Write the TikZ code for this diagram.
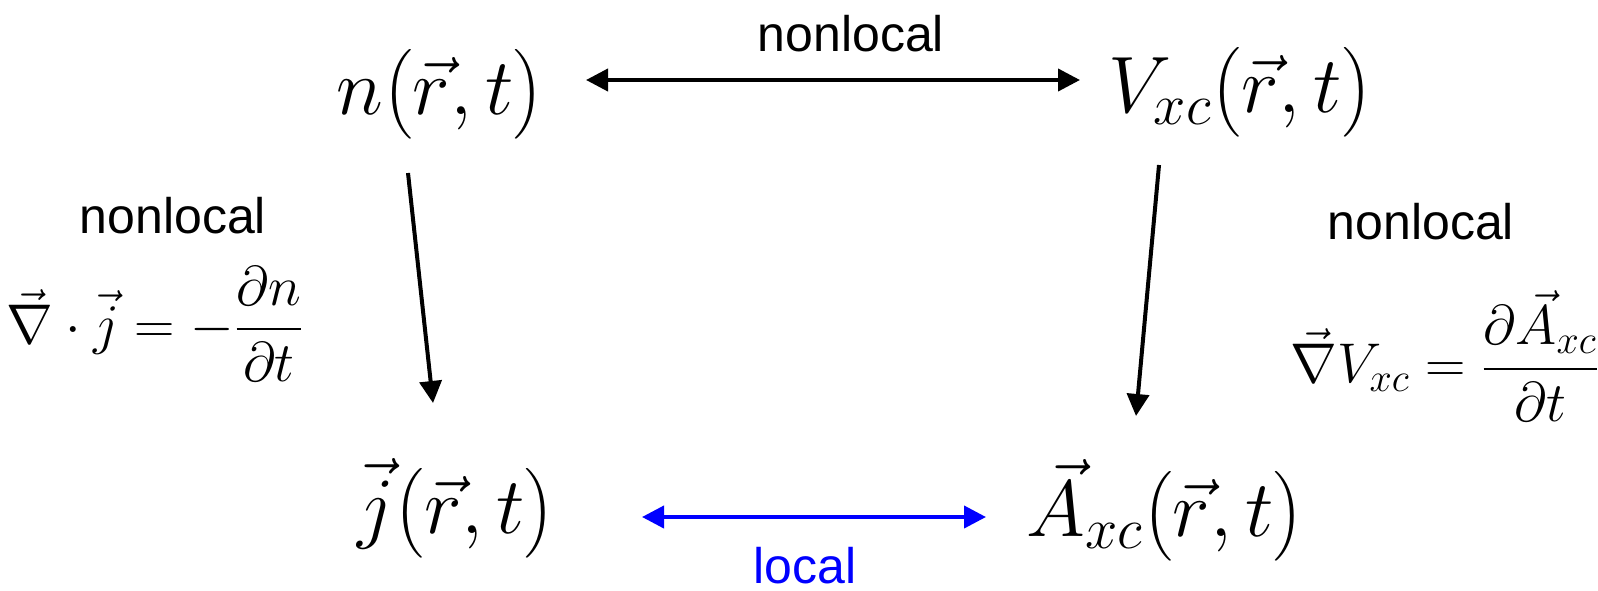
\RequirePackage{fix-cm}
\documentclass[tikz,border=0pt]{standalone}
\usepackage{amsmath}
\usepackage{fontspec}
\newfontfamily\arial{Liberation Sans}
\DeclareMathSizes{40}{40}{29}{21}
\DeclareMathSizes{28}{28}{20}{15}
\usetikzlibrary{arrows.meta}
\tikzset{
  big/.style={font=\fontsize{40}{44}\selectfont, inner sep=0pt},
  eq/.style={font=\fontsize{28}{32}\selectfont, inner sep=0pt},
  lab/.style={font=\arial\fontsize{25}{28}\selectfont, inner sep=0pt},
  conn/.style={line width=2pt, -{Triangle[length=11pt,width=11pt]}},
  biconn/.style={line width=2pt, {Triangle[length=11pt,width=11pt]}-{Triangle[length=11pt,width=11pt]}}
}
\begin{document}
\begin{tikzpicture}[x=0.5pt,y=-0.5pt]
\useasboundingbox (0,0) rectangle (1598,590);
\node[big] (n) at (440,94) {$n\bigl(\vec r,t\bigr)$};
\node[big] (v) at (1240,92) {$V_{xc}\bigl(\vec r,t\bigr)$};
\node[big] (j) at (456,510) {$\vec j\bigl(\vec r,t\bigr)$};
\node[big] (a) at (1165,512) {$\vec A_{xc}\bigl(\vec r,t\bigr)$};
\coordinate (t1) at (586,80);
\coordinate (t2) at (1080,80);
\coordinate (l1) at (408,173);
\coordinate (l2) at (433,403);
\coordinate (r1) at (1159,165);
\coordinate (r2) at (1136,416);
\coordinate (b1) at (642,517);
\coordinate (b2) at (986,517);
\draw[biconn] (t1) -- (t2);
\draw[conn] (l1) -- (l2);
\draw[conn] (r1) -- (r2);
\draw[biconn, blue] (b1) -- (b2);
\node[lab] (ltop) at (851,34) {nonlocal};
\node[lab] (lleft) at (173,216) {nonlocal};
\node[lab] (lright) at (1421,222) {nonlocal};
\node[lab, blue] (lbot) at (805,566) {local};
\node[eq] (eql) at (155,324) {$\vec\nabla\cdot\vec j=-\dfrac{\partial n}{\partial t}$};
\node[eq] (eqr) at (1445,356) {$\vec\nabla V_{xc}=\dfrac{\partial\vec A_{xc}}{\partial t}$};
\end{tikzpicture}
\end{document}
